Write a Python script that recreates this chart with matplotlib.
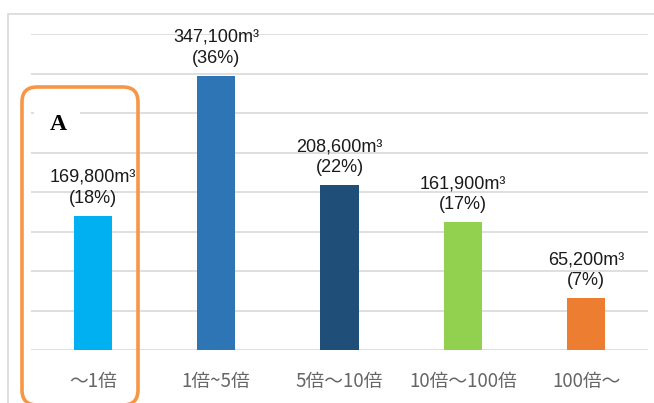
import matplotlib
matplotlib.use("Agg")
import matplotlib.pyplot as plt
from matplotlib.patches import FancyBboxPatch, Rectangle
from matplotlib.transforms import IdentityTransform

categories = ["～1倍", "1倍~5倍", "5倍～10倍", "10倍～100倍", "100倍～"]
values = [169800, 347100, 208600, 161900, 65200]
percents = [18, 36, 22, 17, 7]
colors = ["#00B0F0", "#2E75B6", "#1F4E79", "#92D050", "#ED7D31"]

W, H = 654, 403
fig = plt.figure(figsize=(W / 100, H / 100), dpi=100)
fig.patch.set_facecolor("white")

# outer chart frame
fig.add_artist(Rectangle((8, -5), 700, H - 14 + 5, transform=IdentityTransform(),
                         fill=False, edgecolor="#D9D9D9", linewidth=1.2, zorder=0.5))

ax = fig.add_axes([31 / W, (H - 350) / H, (648 - 31) / W, (350 - 34) / H])
ax.set_facecolor("none")
x = list(range(len(categories)))
ax.bar(x, values, width=0.31, color=colors, zorder=3)
ax.set_xlim(-0.5, len(categories) - 0.5)
ax.set_ylim(0, 400000)
ax.set_yticks(range(0, 400001, 50000))
ax.yaxis.grid(True, color="#D9D9D9", linewidth=1.2, zorder=0)
ax.set_axisbelow(True)
for s in ax.spines.values():
    s.set_visible(False)
ax.tick_params(axis="y", left=False, labelleft=False)
ax.tick_params(axis="x", length=0, pad=15, colors="#666666")
ax.set_xticks(x)
ax.set_xticklabels(categories, fontsize=13.5,
                   family=["Noto Sans CJK JP", "DejaVu Sans"], color="#666666")

for xi, v, p in zip(x, values, percents):
    ax.annotate(f"{v:,}m³\n({p}%)", (xi, v), xytext=(0, 6.5), textcoords="offset points",
                ha="center", va="bottom", fontsize=13, linespacing=1.3,
                family=["Liberation Sans", "DejaVu Sans"], color="#1a1a1a")

# highlight box A
fig.add_artist(Rectangle((34, H - 145), 46, 45, transform=IdentityTransform(),
                         facecolor="white", edgecolor="none", zorder=1))
fig.text(58.7 / W, 1 - 124 / H, "A", ha="center", va="center", fontsize=17,
         fontweight="bold", family="Liberation Serif", color="black", zorder=2)
fig.add_artist(FancyBboxPatch((22 + 15, -2 + 15), 116 - 30, (H - 87) - (-2) - 30,
                              boxstyle="round,pad=15,rounding_size=15",
                              transform=IdentityTransform(), fill=False,
                              edgecolor="#F79646", linewidth=2.6, zorder=3,
                              clip_on=False))

fig.savefig("out.png", dpi=100, facecolor="white")
